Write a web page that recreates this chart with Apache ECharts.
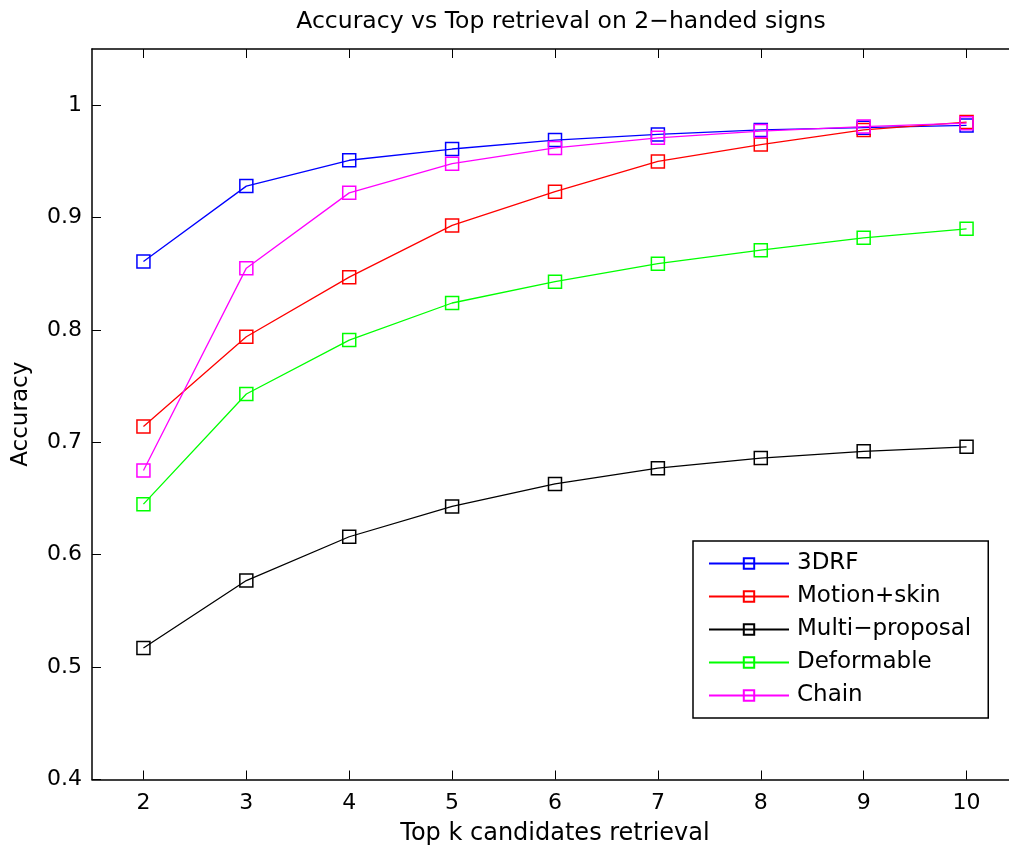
<!DOCTYPE html>
<html>
<head>
<meta charset="utf-8">
<script src="https://cdn.jsdelivr.net/npm/echarts@6/dist/echarts.min.js"></script>
<style>html,body{margin:0;padding:0;background:#fff;}#c{width:1009px;height:848px;}</style>
</head>
<body>
<div id="c"></div>
<script>
const kValues = [2, 3, 4, 5, 6, 7, 8, 9, 10];
const yTicks = [0.4, 0.5, 0.6, 0.7, 0.8, 0.9, 1.0];
const seriesNames = ['3DRF', 'Motion+skin', 'Multi\u2212proposal', 'Deformable', 'Chain'];
const seriesColors = ['#0000ff', '#ff0000', '#000000', '#00ff00', '#ff00ff'];
const acc3DRF       = [0.861, 0.928, 0.951, 0.961, 0.969, 0.974, 0.978, 0.980, 0.982];
const accMotionSkin = [0.714, 0.794, 0.847, 0.893, 0.923, 0.950, 0.965, 0.978, 0.985];
const accMultiProp  = [0.517, 0.577, 0.616, 0.643, 0.663, 0.677, 0.686, 0.692, 0.696];
const accDeformable = [0.645, 0.743, 0.791, 0.824, 0.843, 0.859, 0.871, 0.882, 0.890];
const accChain      = [0.675, 0.855, 0.922, 0.948, 0.962, 0.971, 0.977, 0.981, 0.984];
const allSeries = [acc3DRF, accMotionSkin, accMultiProp, accDeformable, accChain];

const FONT = 'DejaVu Sans';
const chart = echarts.init(document.getElementById('c'), null, {renderer: 'canvas'});

const axisCommon = {
  axisLine: {show: true, onZero: false, lineStyle: {color: '#000', width: 1.5}},
  splitLine: {show: false},
};

const option = {
  backgroundColor: '#fff',
  animation: false,
  title: {
    text: 'Accuracy vs Top retrieval on 2\u2212handed signs',
    left: 556, top: 5, textAlign: 'center',
    textStyle: {fontFamily: FONT, fontSize: 23.5, fontWeight: 'normal', color: '#000'}
  },
  grid: {left: 92, top: 49, width: 926, height: 730.5, containLabel: false, outerBoundsMode: 'none'},
  legend: {
    orient: 'vertical',
    left: 693, top: 541,
    data: seriesNames,
    itemWidth: 80, itemHeight: 13, itemGap: 10,
    padding: [11, 17, 11, 15],
    borderColor: '#000', borderWidth: 1.5, backgroundColor: '#fff',
    textStyle: {fontFamily: FONT, fontSize: 23, lineHeight: 23, color: '#000', padding: [0, 0, 0, 3]}
  },
  xAxis: [
    Object.assign({}, axisCommon, {
      type: 'value', position: 'bottom', min: 1.5, max: 10.5,
      name: 'Top k candidates retrieval', nameLocation: 'middle', nameGap: 42,
      nameTextStyle: {fontFamily: FONT, fontSize: 24, color: '#000'},
      axisTick: {show: true, inside: true, length: 9, customValues: kValues, lineStyle: {color: '#000', width: 1}},
      axisLabel: {show: true, customValues: kValues, margin: 13, fontFamily: FONT, fontSize: 22, color: '#000'}
    }),
    Object.assign({}, axisCommon, {
      type: 'value', position: 'top', min: 1.5, max: 10.5,
      axisTick: {show: true, inside: true, length: 9, customValues: kValues, lineStyle: {color: '#000', width: 1}},
      axisLabel: {show: false}
    })
  ],
  yAxis: [
    Object.assign({}, axisCommon, {
      type: 'value', position: 'left', min: 0.4, max: 1.05,
      name: 'Accuracy', nameLocation: 'middle', nameGap: 59, nameRotate: 90,
      nameTextStyle: {fontFamily: FONT, fontSize: 23, color: '#000'},
      axisTick: {show: true, inside: true, length: 9, customValues: yTicks, lineStyle: {color: '#000', width: 1}},
      axisLabel: {show: true, customValues: yTicks, margin: 10, fontFamily: FONT, fontSize: 22, color: '#000',
        formatter: v => String(Math.round(v * 10) / 10)}
    }),
    Object.assign({}, axisCommon, {
      type: 'value', position: 'right', min: 0.4, max: 1.05,
      axisTick: {show: true, inside: true, length: 9, customValues: yTicks, lineStyle: {color: '#000', width: 1}},
      axisLabel: {show: false}
    })
  ],
  series: seriesNames.map((name, i) => ({
    name: name,
    type: 'line',
    xAxisIndex: 0, yAxisIndex: 0,
    data: kValues.map((k, j) => [k, allSeries[i][j]]),
    symbol: 'rect',
    symbolSize: 13,
    showAllSymbol: true,
    lineStyle: {color: seriesColors[i], width: 1.3},
    itemStyle: {color: 'rgba(255,255,255,0)', borderColor: seriesColors[i], borderWidth: 1.5},
    emphasis: {disabled: true},
    z: 2 + i
  }))
};
chart.setOption(option);
</script>
</body>
</html>
